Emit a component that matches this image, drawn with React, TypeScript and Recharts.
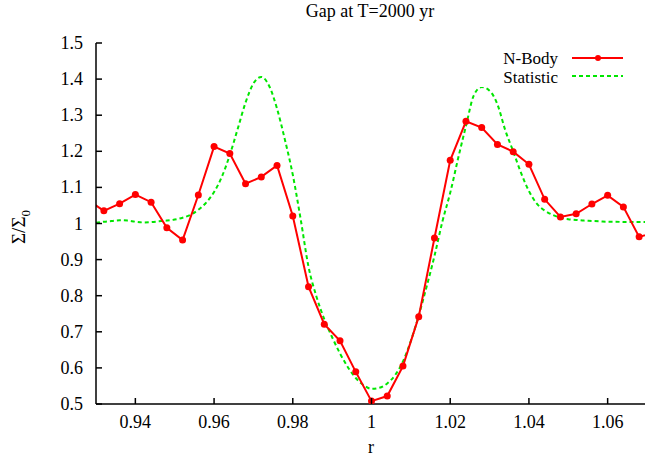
import React from 'react';
import { LineChart, Line, XAxis, YAxis } from 'recharts';

// N-Body samples (r, Sigma/Sigma0)
const nbodyR = [
  0.928, 0.932, 0.936, 0.94, 0.944, 0.948, 0.952, 0.956, 0.96, 0.964, 0.968, 0.972,
  0.976, 0.98, 0.984, 0.988, 0.992, 0.996, 1.0, 1.004, 1.008, 1.012, 1.016, 1.02,
  1.024, 1.028, 1.032, 1.036, 1.04, 1.044, 1.048, 1.052, 1.056, 1.06, 1.064, 1.068, 1.072,
];
const nbodySigma = [
  1.065, 1.035, 1.055, 1.08, 1.059, 0.988, 0.954, 1.079, 1.213, 1.194, 1.11, 1.129,
  1.161, 1.021, 0.825, 0.721, 0.675, 0.589, 0.508, 0.522, 0.605, 0.742, 0.96, 1.175,
  1.283, 1.266, 1.219, 1.199, 1.164, 1.067, 1.018, 1.027, 1.054, 1.078, 1.046, 0.963, 0.975,
];

// Statistic curve
const statR = [
  0.93, 0.932, 0.934, 0.936, 0.938, 0.94, 0.942, 0.944, 0.946, 0.948, 0.95, 0.952,
  0.954, 0.956, 0.958, 0.96, 0.962, 0.964, 0.966, 0.968, 0.97, 0.972, 0.974, 0.976,
  0.978, 0.98, 0.982, 0.984, 0.986, 0.988, 0.99, 0.992, 0.994, 0.996, 0.998, 1.0,
  1.002, 1.004, 1.006, 1.008, 1.01, 1.012, 1.014, 1.016, 1.018, 1.02, 1.022, 1.024,
  1.026, 1.028, 1.03, 1.032, 1.034, 1.036, 1.038, 1.04, 1.042, 1.044, 1.046, 1.048,
  1.05, 1.052, 1.054, 1.056, 1.058, 1.06, 1.062, 1.064, 1.066, 1.068, 1.07,
];
const statSigma = [
  1.002, 1.005, 1.007, 1.009, 1.008, 1.005, 1.003, 1.004, 1.006, 1.008, 1.011, 1.016,
  1.024, 1.038, 1.058, 1.087, 1.13, 1.19, 1.262, 1.335, 1.388, 1.406, 1.381, 1.318,
  1.232, 1.135, 1.012, 0.88, 0.798, 0.735, 0.685, 0.64, 0.602, 0.572, 0.552, 0.542,
  0.545, 0.557, 0.58, 0.618, 0.675, 0.745, 0.825, 0.91, 1.005, 1.085, 1.18, 1.27,
  1.355, 1.378, 1.368, 1.33, 1.258, 1.2, 1.14, 1.09, 1.055, 1.036, 1.024, 1.016,
  1.012, 1.01, 1.008, 1.007, 1.006, 1.005, 1.005, 1.004, 1.004, 1.004, 1.004,
];

const xTicks = [0.94, 0.96, 0.98, 1, 1.02, 1.04, 1.06];
const yTicks = [0.5, 0.6, 0.7, 0.8, 0.9, 1, 1.1, 1.2, 1.3, 1.4, 1.5];

const nbodyData = nbodyR.map((r, i) => ({ r, v: nbodySigma[i] }));
const statData = statR.map((r, i) => ({ r, v: statSigma[i] }));

const FONT = "'Liberation Serif', 'Times New Roman', 'DejaVu Serif', serif";
const RED = '#ff0000';
const GREEN = '#00e600';
const TICK = 6;

const BottomTick = (p: any) => (
  <g>
    <line x1={p.x} x2={p.x} y1={p.y} y2={p.y - TICK} stroke="#000" strokeWidth={1.5} />
    <text x={p.x} y={p.y + 24} textAnchor="middle" style={{ fontFamily: FONT }} fontSize={18} fill="#000">
      {String(p.payload.value)}
    </text>
  </g>
);
const TopTick = (p: any) => (
  <line x1={p.x} x2={p.x} y1={p.y} y2={p.y + TICK} stroke="#000" strokeWidth={1.5} />
);
const LeftTick = (p: any) => (
  <g>
    <line x1={p.x} x2={p.x + TICK} y1={p.y} y2={p.y} stroke="#000" strokeWidth={1.5} />
    <text x={p.x - 13} y={p.y + 6} textAnchor="end" style={{ fontFamily: FONT }} fontSize={18} fill="#000">
      {String(p.payload.value)}
    </text>
  </g>
);
const RightTick = (p: any) => (
  <line x1={p.x} x2={p.x - TICK} y1={p.y} y2={p.y} stroke="#000" strokeWidth={1.5} />
);

export default function App() {
  return (
    <div style={{ position: 'relative', width: 645, height: 458, overflow: 'hidden', background: '#fff', fontFamily: FONT }}>
      <style>{`body{margin:0;background:#fff}`}</style>
      <div style={{ position: 'absolute', left: 370, top: 1, transform: 'translateX(-50%)', fontSize: 18, whiteSpace: 'nowrap' }}>
        Gap at T=2000 yr
      </div>
      <div style={{ position: 'absolute', left: 21, top: 227, transform: 'translate(-50%, -50%) rotate(-90deg)', fontSize: 19, whiteSpace: 'nowrap' }}>
        Σ/Σ<sub style={{ fontSize: 13 }}>0</sub>
      </div>
      <div style={{ position: 'absolute', left: 371, top: 437, transform: 'translateX(-50%)', fontSize: 18 }}>
        r
      </div>
      <LineChart width={647} height={458} margin={{ top: 43, right: 0, bottom: 24, left: 36 }}>
        <XAxis
          xAxisId="b" dataKey="r" type="number" domain={[0.93, 1.07]} allowDataOverflow
          ticks={xTicks} tick={BottomTick} tickLine={false} tickSize={0} tickMargin={0}
          height={30} axisLine={{ stroke: '#000', strokeWidth: 1.5 }}
        />
        <XAxis
          xAxisId="t" orientation="top" dataKey="r" type="number" domain={[0.93, 1.07]} allowDataOverflow
          ticks={xTicks} tick={TopTick} tickLine={false} tickSize={0} tickMargin={0}
          height={0} axisLine={{ stroke: '#000', strokeWidth: 1.5 }}
        />
        <YAxis
          yAxisId="l" type="number" domain={[0.5, 1.5]} allowDataOverflow
          ticks={yTicks} tick={LeftTick} tickLine={false} tickSize={0} tickMargin={0}
          width={60} axisLine={{ stroke: '#000', strokeWidth: 1.5 }}
        />
        <YAxis
          yAxisId="r" orientation="right" type="number" domain={[0.5, 1.5]} allowDataOverflow
          ticks={yTicks} tick={RightTick} tickLine={false} tickSize={0} tickMargin={0}
          width={0} axisLine={{ stroke: '#000', strokeWidth: 1.5 }}
        />
        <Line
          xAxisId="b" yAxisId="l" data={statData} dataKey="v" type="monotone" name="Statistic"
          stroke={GREEN} strokeWidth={2} strokeDasharray="4 3" dot={false} isAnimationActive={false}
        />
        <Line
          xAxisId="b" yAxisId="l" data={nbodyData} dataKey="v" type="linear" name="N-Body"
          stroke={RED} strokeWidth={2} dot={{ r: 3.5, fill: RED, stroke: RED, strokeWidth: 0 }}
          isAnimationActive={false}
        />
      </LineChart>
      {/* legend, top right inside the frame */}
      <svg width={200} height={40} style={{ position: 'absolute', left: 442, top: 47, overflow: 'visible' }}>
        <rect x={20} y={0} width={170} height={40} fill="#fff" />
        <text x={116} y={17} textAnchor="end" fontSize={17} fill="#000">N-Body</text>
        <line x1={130} x2={181} y1={11} y2={11} stroke={RED} strokeWidth={2} />
        <circle cx={156} cy={11} r={3} fill={RED} />
        <text x={116} y={36} textAnchor="end" fontSize={17} fill="#000">Statistic</text>
        <line x1={130} x2={181} y1={29} y2={29} stroke={GREEN} strokeWidth={2} strokeDasharray="4 3" />
      </svg>
    </div>
  );
}
